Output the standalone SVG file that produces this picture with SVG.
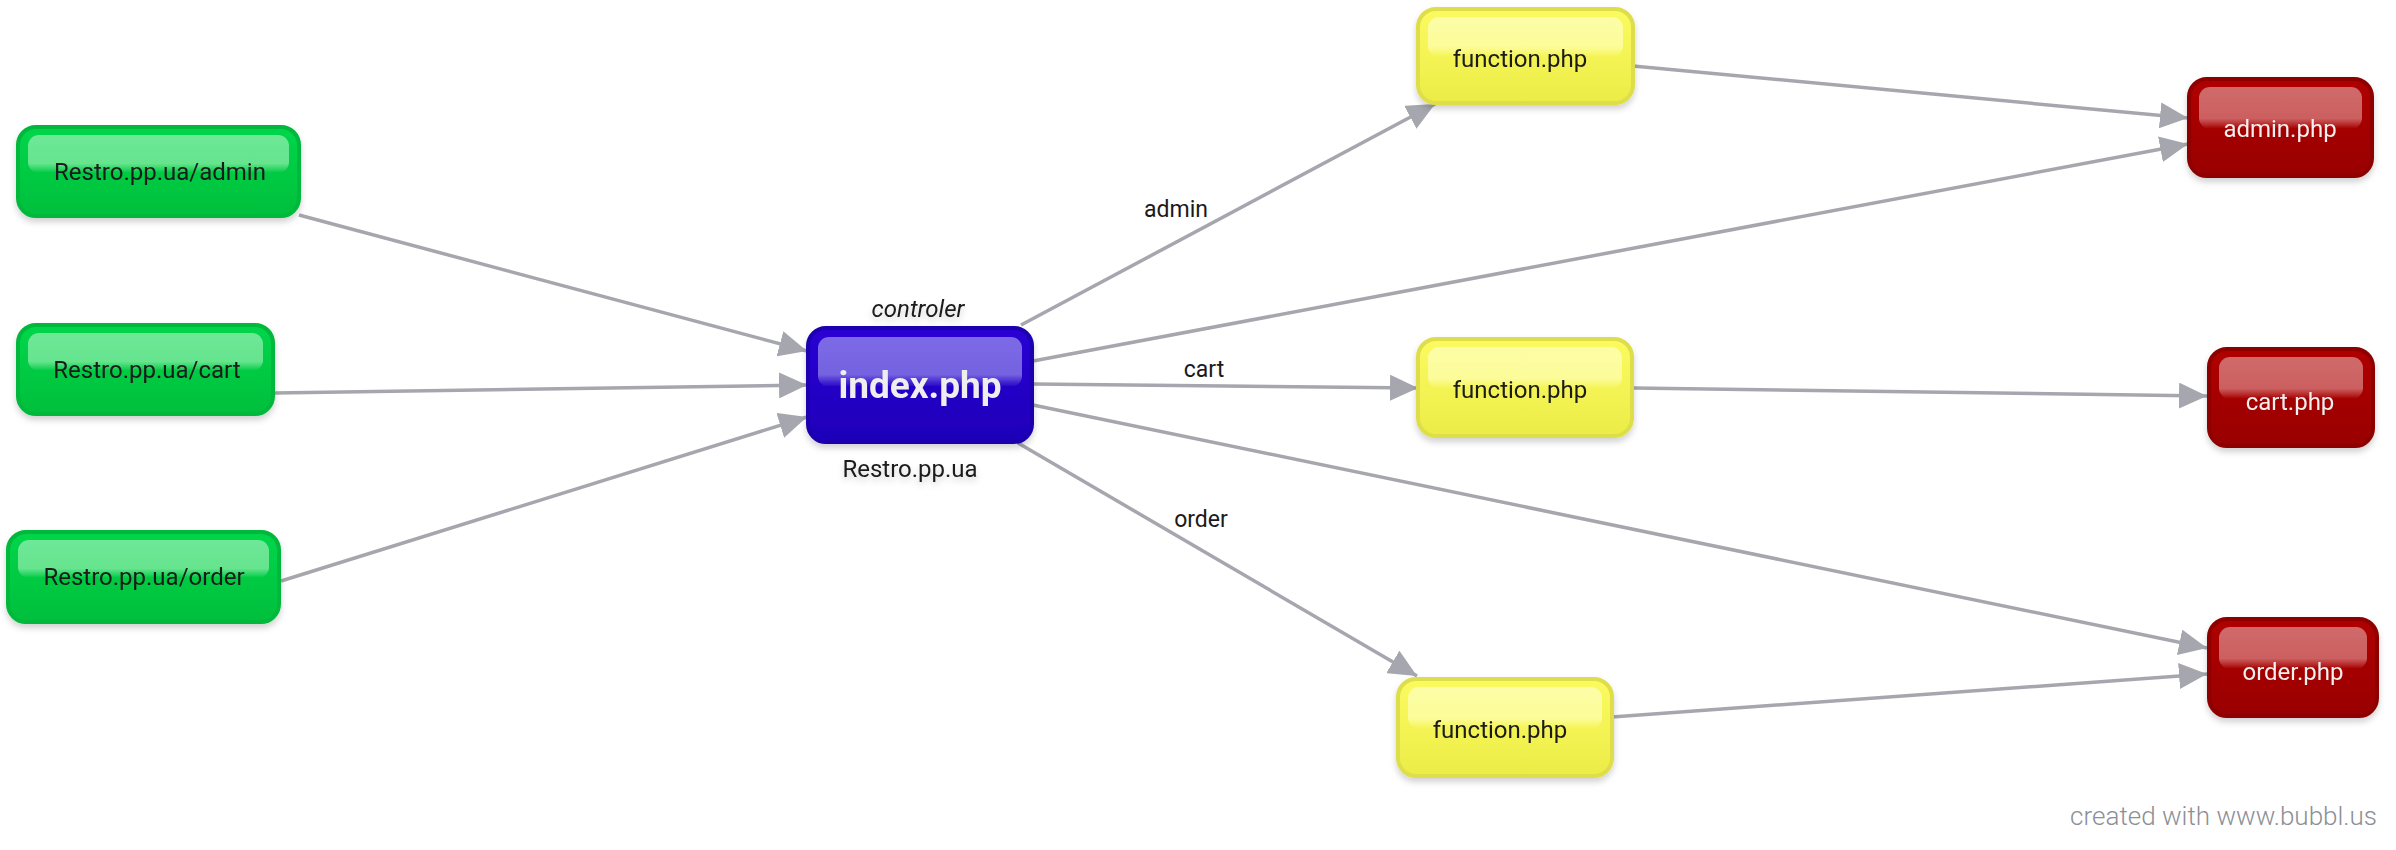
<svg xmlns="http://www.w3.org/2000/svg" width="2396" height="850" viewBox="0 0 2396 850">
<style>
text{font-family:Roboto,"Liberation Sans",sans-serif}
.lbl{font-size:24px;fill:#1a1a1a;text-anchor:middle}
.wl{font-size:24px;fill:#f0f0f0;text-anchor:middle}
.el{font-size:23px;fill:#1a1a1a;text-anchor:middle}
.edge{stroke:#a6a7ae;stroke-width:3.5;fill:none;marker-end:url(#arr)}
.g{fill:url(#gG);stroke:#00b83a;stroke-width:4}
.b{fill:url(#gB);stroke:#1c00b0;stroke-width:4}
.y{fill:url(#gY);stroke:#dede4c;stroke-width:4}
.r{fill:url(#gR);stroke:#8e0000;stroke-width:4}
.node{filter:url(#sh)}
</style>
<defs>
<marker id="arr" markerUnits="userSpaceOnUse" markerWidth="30" markerHeight="26" refX="28" refY="13" orient="auto">
<path d="M0,0 L28,13 L0,26 Z" fill="#a6a7ae"/>
</marker>
<filter id="sh" x="-10%" y="-10%" width="120%" height="130%">
<feDropShadow dx="0" dy="4" stdDeviation="3" flood-color="#000" flood-opacity="0.18"/>
</filter>
<linearGradient id="gG" x1="0" y1="0" x2="0" y2="1"><stop offset="0" stop-color="#00d64a"/><stop offset="1" stop-color="#00bf3c"/></linearGradient>
<linearGradient id="gB" x1="0" y1="0" x2="0" y2="1"><stop offset="0" stop-color="#2a00d4"/><stop offset="1" stop-color="#1e00b8"/></linearGradient>
<linearGradient id="gY" x1="0" y1="0" x2="0" y2="1"><stop offset="0" stop-color="#fbfb60"/><stop offset="1" stop-color="#ecec48"/></linearGradient>
<linearGradient id="gR" x1="0" y1="0" x2="0" y2="1"><stop offset="0" stop-color="#b00000"/><stop offset="1" stop-color="#990000"/></linearGradient>
<linearGradient id="hG" x1="0" y1="0" x2="0" y2="1"><stop offset="0" stop-color="#6ee897"/><stop offset="0.75" stop-color="#66e48e"/><stop offset="1" stop-color="#66e48e" stop-opacity="0"/></linearGradient>
<linearGradient id="hB" x1="0" y1="0" x2="0" y2="1"><stop offset="0" stop-color="#7d6ae6"/><stop offset="0.75" stop-color="#7462e0"/><stop offset="1" stop-color="#7462e0" stop-opacity="0"/></linearGradient>
<linearGradient id="hY" x1="0" y1="0" x2="0" y2="1"><stop offset="0" stop-color="#fdfda8"/><stop offset="0.75" stop-color="#fcfc98"/><stop offset="1" stop-color="#fcfc98" stop-opacity="0"/></linearGradient>
<linearGradient id="hR" x1="0" y1="0" x2="0" y2="1"><stop offset="0" stop-color="#d06a6a"/><stop offset="0.75" stop-color="#cc6060"/><stop offset="1" stop-color="#cc6060" stop-opacity="0"/></linearGradient>
</defs>
<rect width="2396" height="850" fill="#fff"/>

<g id="connectors">
<path class="edge" d="M299,215 L807,351"/>
<path class="edge" d="M275,393 L807,385"/>
<path class="edge" d="M281,581 L807,417"/>
<path class="edge" d="M1021,325 L1435,104"/>
<path class="edge" d="M1033,361 L2188,144"/>
<path class="edge" d="M1033,384 L1418,388"/>
<path class="edge" d="M1033,405 L2207,648"/>
<path class="edge" d="M1018,443 L1417,676"/>
<path class="edge" d="M1633,66 L2188,118"/>
<path class="edge" d="M1633,388 L2207,396"/>
<path class="edge" d="M1612,717 L2207,674"/>
<text class="el" x="1176" y="217">admin</text>
<text class="el" x="1204" y="377">cart</text>
<text class="el" x="1201" y="527">order</text>
</g>

<g id="n-admin-url" class="node">
<rect class="g" x="18" y="127" width="281" height="89" rx="18"/>
<rect x="28" y="135" width="261" height="38" rx="11" fill="url(#hG)"/>
<text class="lbl" x="160" y="180">Restro.pp.ua/admin</text>
</g>
<g id="n-cart-url" class="node">
<rect class="g" x="18" y="325" width="255" height="89" rx="18"/>
<rect x="28" y="333" width="235" height="38" rx="11" fill="url(#hG)"/>
<text class="lbl" x="147" y="378">Restro.pp.ua/cart</text>
</g>
<g id="n-order-url" class="node">
<rect class="g" x="8" y="532" width="271" height="90" rx="18"/>
<rect x="18" y="540" width="251" height="38" rx="11" fill="url(#hG)"/>
<text class="lbl" x="144" y="585">Restro.pp.ua/order</text>
</g>

<g id="n-index" class="node">
<rect class="b" x="808" y="328" width="224" height="114" rx="18"/>
<rect x="818" y="337" width="204" height="50" rx="11" fill="url(#hB)"/>
<text x="920" y="398" style="font-size:37px;font-weight:bold;fill:#eeeeee;text-anchor:middle">index.php</text>
<text x="918" y="317" style="font-size:24px;font-style:italic;fill:#1a1a1a;text-anchor:middle">controler</text>
<text class="lbl" x="910" y="477">Restro.pp.ua</text>
</g>

<g id="n-func1" class="node">
<rect class="y" x="1418" y="9" width="215" height="94" rx="18"/>
<rect x="1428" y="17" width="195" height="40" rx="11" fill="url(#hY)"/>
<text class="lbl" x="1520" y="67">function.php</text>
</g>
<g id="n-func2" class="node">
<rect class="y" x="1418" y="339" width="214" height="97" rx="18"/>
<rect x="1428" y="347" width="194" height="42" rx="11" fill="url(#hY)"/>
<text class="lbl" x="1520" y="398">function.php</text>
</g>
<g id="n-func3" class="node">
<rect class="y" x="1398" y="679" width="214" height="97" rx="18"/>
<rect x="1408" y="687" width="194" height="42" rx="11" fill="url(#hY)"/>
<text class="lbl" x="1500" y="738">function.php</text>
</g>

<g id="n-adminphp" class="node">
<rect class="r" x="2189" y="79" width="183" height="97" rx="18"/>
<rect x="2199" y="87" width="163" height="42" rx="11" fill="url(#hR)"/>
<text class="wl" x="2280" y="137">admin.php</text>
</g>
<g id="n-cartphp" class="node">
<rect class="r" x="2209" y="349" width="164" height="97" rx="18"/>
<rect x="2219" y="357" width="144" height="42" rx="11" fill="url(#hR)"/>
<text class="wl" x="2290" y="410">cart.php</text>
</g>
<g id="n-orderphp" class="node">
<rect class="r" x="2209" y="619" width="168" height="97" rx="18"/>
<rect x="2219" y="627" width="148" height="42" rx="11" fill="url(#hR)"/>
<text class="wl" x="2293" y="680">order.php</text>
</g>

<text x="2377" y="825" style="font-size:26px;font-weight:300;fill:#8c8f96;text-anchor:end">created with www.bubbl.us</text>
</svg>
